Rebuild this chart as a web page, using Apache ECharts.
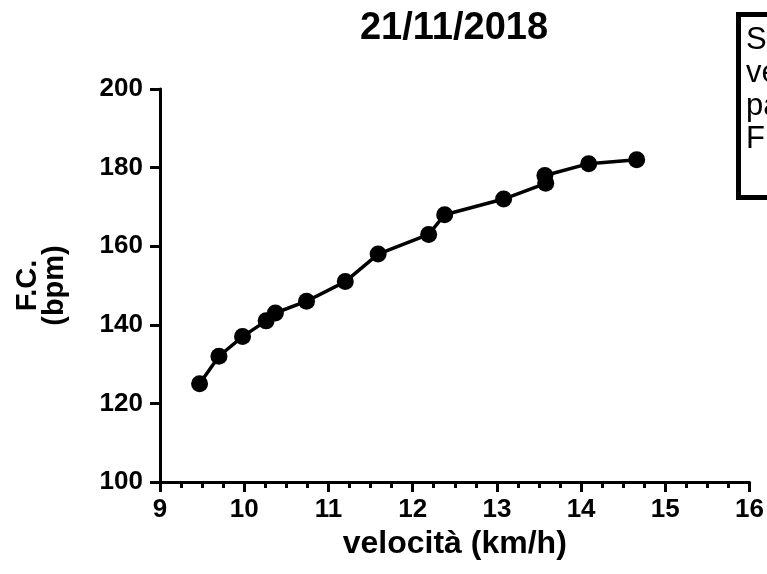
<!DOCTYPE html>
<html>
<head>
<meta charset="utf-8">
<title>21/11/2018</title>
<script src="https://cdn.jsdelivr.net/npm/echarts@6/dist/echarts.min.js"></script>
<style>
  html, body { margin: 0; padding: 0; background: #fff; }
  #chart { width: 767px; height: 574px; }
</style>
</head>
<body>
<div id="chart"></div>
<script>
// Test date
const chartTitle = '21/11/2018';

// Running speed (km/h) and heart rate (bpm) at each step
const speed = [9.47, 9.70, 9.98, 10.26, 10.37, 10.74, 11.20, 11.59, 12.19, 12.38, 13.08, 13.58, 13.57, 14.09, 14.66];
const heartRate = [125, 132, 137, 141, 143, 146, 151, 158, 163, 168, 172, 176, 178, 181, 182];

// Axis ranges and labels
const xRange = [9, 16];
const yRange = [100, 200];
const xName = 'velocità (km/h)';
const yName = 'F.C.\n(bpm)';

// Text box at the top right (runs past the right edge)
const noteLines = ['S', 've', 'pa', 'F'];

const FONT = '"Liberation Sans", Arial, Helvetica, sans-serif';
const points = speed.map((v, i) => [v, heartRate[i]]);

const chart = echarts.init(document.getElementById('chart'), null, { renderer: 'canvas' });

chart.setOption({
  backgroundColor: '#ffffff',
  animation: false,
  title: {
    text: chartTitle,
    left: 449,
    top: 5,
    textAlign: 'center',
    textStyle: { fontFamily: FONT, fontSize: 38, fontWeight: 'bold', color: '#000' }
  },
  grid: { left: 160, right: 15, top: 89, bottom: 92, containLabel: false },
  xAxis: {
    type: 'value',
    min: xRange[0],
    max: xRange[1],
    interval: 1,
    name: xName,
    nameLocation: 'middle',
    nameGap: 38,
    nameTextStyle: { fontFamily: FONT, fontSize: 32, fontWeight: 'bold', color: '#000' },
    axisLine: { show: true, onZero: false, lineStyle: { color: '#000', width: 3 } },
    axisTick: { show: true, length: 10, lineStyle: { color: '#000', width: 3 } },
    minorTick: { show: true, splitNumber: 4, length: 6, lineStyle: { color: '#000', width: 3 } },
    splitLine: { show: false },
    minorSplitLine: { show: false },
    axisLabel: { margin: 15, fontFamily: FONT, fontSize: 26, fontWeight: 'bold', color: '#000' }
  },
  yAxis: {
    type: 'value',
    min: yRange[0],
    max: yRange[1],
    interval: 20,
    name: yName,
    nameLocation: 'middle',
    nameRotate: 90,
    nameGap: 92,
    nameTextStyle: { fontFamily: FONT, fontSize: 29, fontWeight: 'bold', color: '#000', align: 'center', lineHeight: 27 },
    axisLine: { show: true, onZero: false, lineStyle: { color: '#000', width: 3 } },
    axisTick: { show: true, length: 10, lineStyle: { color: '#000', width: 3 } },
    splitLine: { show: false },
    axisLabel: { margin: 17, fontFamily: FONT, fontSize: 26, fontWeight: 'bold', color: '#000' }
  },
  series: [{
    type: 'line',
    data: points,
    symbol: 'circle',
    symbolSize: 17,
    showAllSymbol: true,
    lineStyle: { color: '#000', width: 3.5 },
    itemStyle: { color: '#000', borderWidth: 0 },
    z: 3
  }],
  graphic: [
    {
      type: 'rect',
      left: 736,
      top: 12,
      shape: { width: 300, height: 183 },
      style: { fill: '#fff', stroke: '#000', lineWidth: 5 },
      z: 10
    },
    {
      type: 'text',
      x: 746,
      y: 24,
      style: {
        text: noteLines.join('\n'),
        font: 'normal 31px ' + FONT,
        lineHeight: 33,
        fill: '#000',
        verticalAlign: 'top',
        align: 'left'
      },
      z: 11
    }
  ]
});
</script>
</body>
</html>
